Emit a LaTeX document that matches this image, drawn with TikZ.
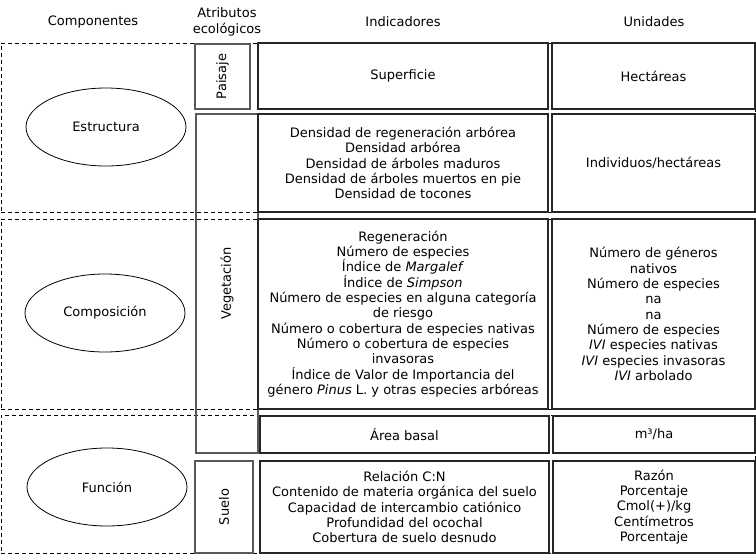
\documentclass[tikz,border=0pt]{standalone}
\usepackage{fontspec}
\setmainfont{DejaVu Sans}
\usetikzlibrary{shapes.geometric}

\tikzset{
	caja/.style={draw=black!85, line width=1.1pt, inner sep=0pt, align=center},
	atributo/.style={draw=black!65, line width=1.1pt, inner sep=0pt},
	grupo/.style={draw=black, line width=1pt, dash pattern=on 4pt off 3pt, inner sep=0pt},
	elipse/.style={shape=ellipse, draw=black, line width=0.8pt, minimum width=160pt, minimum height=78pt},
	titulo/.style={align=center}
}

\begin{document}
\begin{tikzpicture}[x=1pt, y=-1pt, font=\fontsize{13}{15.3}\selectfont]

	\useasboundingbox (0,0) rectangle (756,555);

	\node[titulo] (tc) at (93, 22)     {Componentes};
	\node[titulo] (ta) at (227, 22)     {Atributos\\ecológicos};
	\node[titulo] (ti) at (403, 22)     {Indicadores};
	\node[titulo] (tu) at (654, 22)     {Unidades};

	\node[grupo, minimum width=754pt, minimum height=169pt] (g1) at (378, 127.5)     {};
	\node[grupo, minimum width=754pt, minimum height=190pt] (g2) at (378, 314)     {};
	\node[grupo, minimum width=754pt, minimum height=138pt] (g3) at (378, 484)     {};

	\node[elipse] (e) at (106, 127)     {Estructura};
	\node[elipse] (c) at (105, 313)     {Composición};
	\node[elipse] (f) at (107, 487)     {Función};

	\node[atributo, minimum width=55pt, minimum height=65pt] (p) at (222.5, 76.5)     {\rotatebox{90}{Paisaje}};
	\node[atributo, minimum width=62pt, minimum height=339pt] (v) at (227, 283.5)     {\rotatebox{90}{Vegetación}};
	\node[atributo, minimum width=58pt, minimum height=92pt] (s) at (224, 507)     {\rotatebox{90}{Suelo}};

	\node[caja, minimum width=290pt, minimum height=66pt] (i1) at (403, 76)     {Superficie};
	\node[caja, minimum width=290pt, minimum height=98pt] (i2) at (403, 163)     {Densidad de regeneración arbórea\\Densidad arbórea\\Densidad de árboles maduros\\Densidad de árboles muertos en pie\\Densidad de tocones};
	\node[caja, minimum width=290pt, minimum height=190pt] (i3) at (403, 314)     {Regeneración\\Número de especies\\Índice de \textit{Margalef}\\Índice de \textit{Simpson}\\Número de especies en alguna categoría\\de riesgo\\Número o cobertura de especies nativas\\Número o cobertura de especies\\invasoras\\Índice de Valor de Importancia del\\género \textit{Pinus} L. y otras especies arbóreas};
	\node[caja, minimum width=289pt, minimum height=37pt] (i4) at (404.5, 434.5)     {Área basal};
	\node[caja, minimum width=289pt, minimum height=92pt] (i5) at (404.5, 507)     {Relación C:N\\Contenido de materia orgánica del suelo\\Capacidad de intercambio catiónico\\Profundidad del ocochal\\Cobertura de suelo desnudo};

	\node[caja, minimum width=203pt, minimum height=66pt] (u1) at (653.5, 76)     {Hectáreas};
	\node[caja, minimum width=203pt, minimum height=98pt] (u2) at (653.5, 163)     {Individuos/hectáreas};
	\node[caja, minimum width=203pt, minimum height=190pt] (u3) at (653.5, 314)     {Número de géneros\\nativos\\Número de especies\\na\\na\\Número de especies\\\textit{IVI} especies nativas\\\textit{IVI} especies invasoras\\\textit{IVI} arbolado};
	\node[caja, minimum width=202pt, minimum height=37pt] (u4) at (654, 434.5)     {m³/ha};
	\node[caja, minimum width=202pt, minimum height=92pt] (u5) at (654, 507)     {Razón\\Porcentaje\\Cmol(+)/kg\\Centímetros\\Porcentaje};

\end{tikzpicture}
\end{document}
